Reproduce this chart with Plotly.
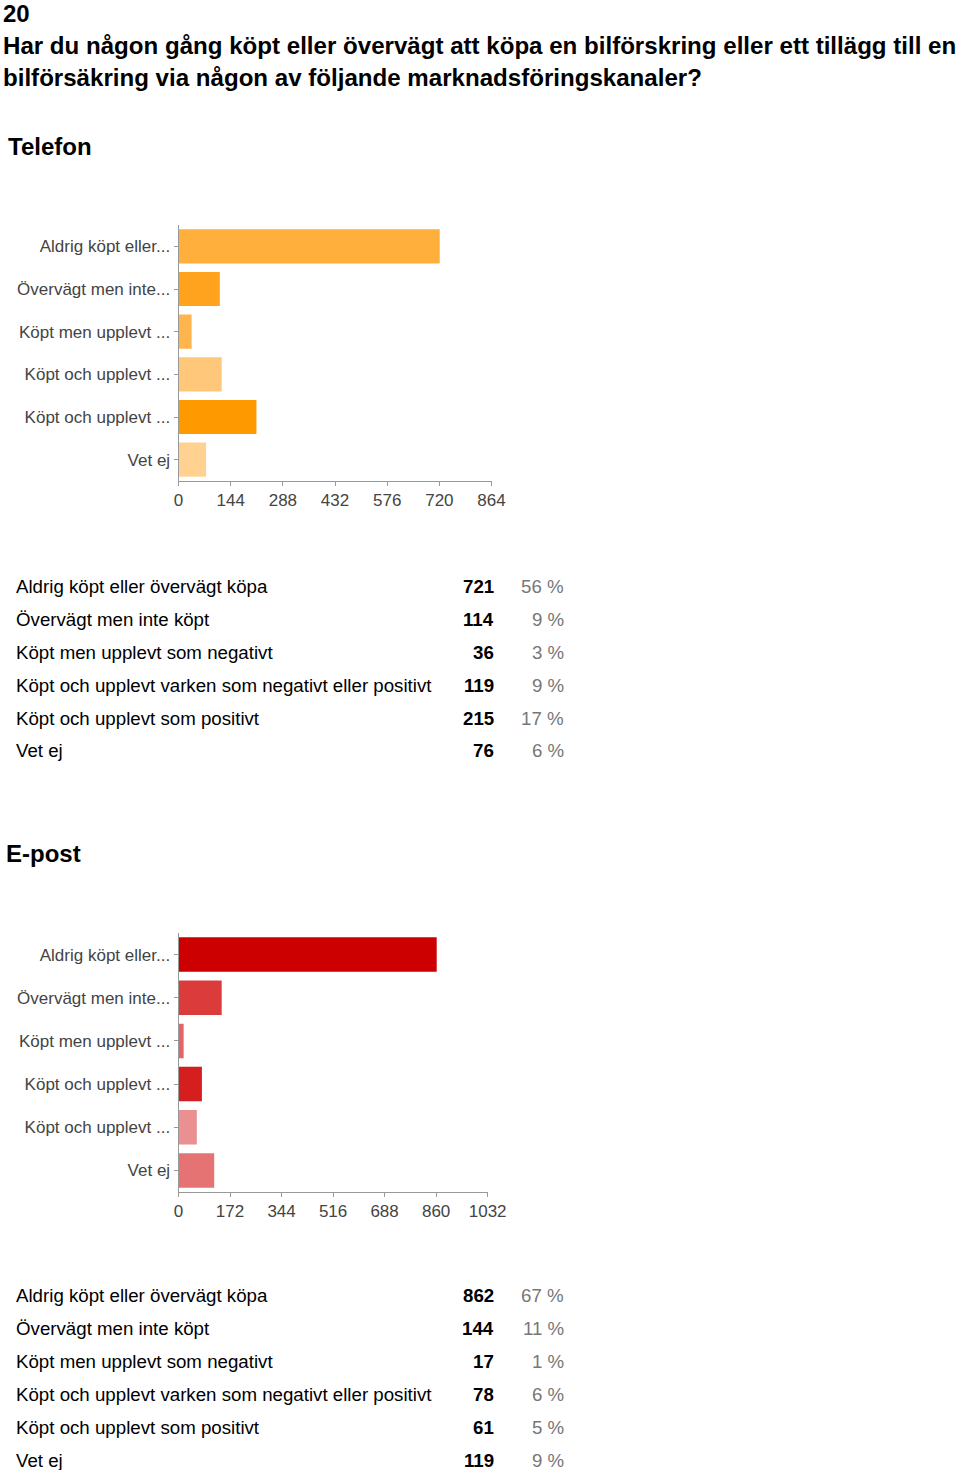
import plotly.graph_objects as go

categories = ["Aldrig köpt eller övervägt köpa", "Övervägt men inte köpt",
              "Köpt men upplevt som negativt",
              "Köpt och upplevt varken som negativt eller positivt",
              "Köpt och upplevt som positivt", "Vet ej"]
short_labels = ["Aldrig köpt eller...", "Övervägt men inte...", "Köpt men upplevt ...",
                "Köpt och upplevt ...", "Köpt och upplevt ...", "Vet ej"]
telefon_counts = [721, 114, 36, 119, 215, 76]
telefon_pct = [56, 9, 3, 9, 17, 6]
epost_counts = [862, 144, 17, 78, 61, 119]
epost_pct = [67, 11, 1, 6, 5, 9]
telefon_ticks = [0, 144, 288, 432, 576, 720, 864]
epost_ticks = [0, 172, 344, 516, 688, 860, 1032]

telefon_colors = ["#FFAF3C", "#FFA31F", "#FFB54D", "#FFC779", "#FF9900", "#FFD291"]
epost_colors = ["#CC0000", "#DB3B3B", "#E36666", "#D51F1F", "#EA9090", "#E67373"]

W, H = 960, 1470
FONT = "Liberation Sans, Arial, sans-serif"

def py(p):
    return 1 - p / H

def px(p):
    return p / W

fig = go.Figure()
ypos = list(range(len(categories)))

fig.add_trace(go.Bar(x=telefon_counts, y=ypos, orientation="h",
                     marker=dict(color=telefon_colors, line=dict(width=0)),
                     xaxis="x", yaxis="y", showlegend=False))
fig.add_trace(go.Bar(x=epost_counts, y=ypos, orientation="h",
                     marker=dict(color=epost_colors, line=dict(width=0)),
                     xaxis="x2", yaxis="y2", showlegend=False))

axis_common = dict(showgrid=False, zeroline=False, showline=True, linecolor="#999999",
                   linewidth=1, ticks="outside", ticklen=4, tickcolor="#999999",
                   tickfont=dict(family=FONT, size=17, color="#444444"), fixedrange=True)

fig.update_layout(
    width=W, height=H, margin=dict(l=0, r=0, t=0, b=0),
    paper_bgcolor="white", plot_bgcolor="white", bargap=0.2,
    xaxis=dict(domain=[px(178), px(499)], range=[0, 864], tickvals=telefon_ticks,
               anchor="y", **axis_common),
    yaxis=dict(domain=[py(481), py(225)], range=[5.5, -0.5], tickvals=ypos,
               ticktext=short_labels, anchor="x", **axis_common),
    xaxis2=dict(domain=[px(178), px(495)], range=[0, 1032], tickvals=epost_ticks,
                anchor="y2", **axis_common),
    yaxis2=dict(domain=[py(1192), py(933)], range=[5.5, -0.5], tickvals=ypos,
                ticktext=short_labels, anchor="x2", **axis_common),
)

def text(x, y, s, size, bold=False, color="black", xanchor="left"):
    fig.add_annotation(x=px(x), y=py(y), xref="paper", yref="paper", text=s,
                       showarrow=False, xanchor=xanchor, yanchor="middle",
                       font=dict(family=FONT, size=size, color=color,
                                 weight="bold" if bold else "normal"))

text(-4, 14, "20", 24, bold=True)
text(-4, 45, "Har du någon gång köpt eller övervägt att köpa en bilförskring eller ett tillägg till en", 24.1, bold=True)
text(-4, 77, "bilförsäkring via någon av följande marknadsföringskanaler?", 24.1, bold=True)
text(1, 147, "Telefon", 24, bold=True)
text(-1, 853, "E-post", 24, bold=True)

def table(y0, counts, pcts):
    for i, (c, n, p) in enumerate(zip(categories, counts, pcts)):
        y = y0 + 33 * i
        text(9, y, c, 18.7)
        text(504, y, str(n), 18.7, bold=True, xanchor="right")
        text(575, y, f"{p} %", 18.7, color="#777777", xanchor="right")

table(586, telefon_counts, telefon_pct)
table(1295, epost_counts, epost_pct)

fig.write_html("out.html", config={"displayModeBar": False},
               post_script="document.body.style.margin='0';document.body.style.overflow='hidden';")
